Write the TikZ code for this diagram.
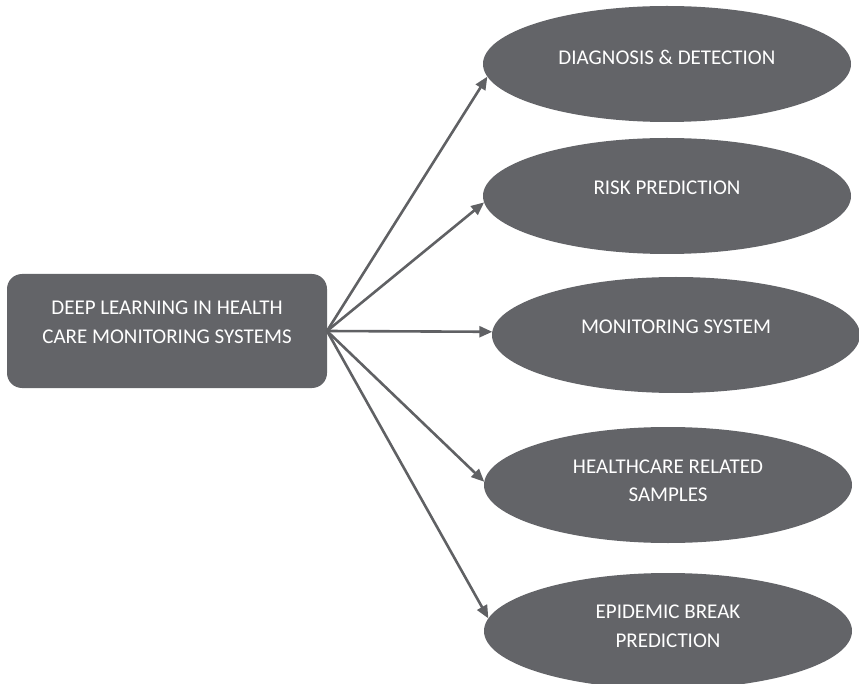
\documentclass[tikz,border=0pt]{standalone}
\usepackage{fontspec}
\setmainfont{Carlito}
\usetikzlibrary{shapes.geometric,arrows.meta}
\definecolor{shade}{RGB}{99,100,104}
\definecolor{linegray}{RGB}{96,97,100}
\begin{document}
\begin{tikzpicture}[x=1pt,y=-1pt,
  hubbox/.style={fill=shade, rounded corners=15pt, minimum width=320pt,
    minimum height=114pt, inner sep=0pt, outer sep=0pt},
  topic/.style={ellipse, fill=shade, minimum width=368pt,
    minimum height=116pt, inner sep=0pt, outer sep=0pt},
  caption/.style={text=white, font=\fontsize{21}{28.5}\selectfont,
    align=center, inner sep=0pt},
  link/.style={draw=linegray, line width=2.6pt,
    -{Triangle[length=13pt,width=11pt]}}]
\useasboundingbox (0,0) rectangle (859,684);
\clip (0,0) rectangle (859,684);

% central box
\node[hubbox] (hub) at (167,331) {};
\node[caption] (hubtext) at (167,322.5) {DEEP LEARNING IN HEALTH\\CARE MONITORING SYSTEMS};

% application areas
\node[topic] (d1) at (667,64) {};
\node[caption] (t1) at (667,57) {DIAGNOSIS \& DETECTION};
\node[topic] (d2) at (667,196) {};
\node[caption] (t2) at (667,188) {RISK PREDICTION};
\node[topic] (d3) at (676,335) {};
\node[caption] (t3) at (676,327) {MONITORING SYSTEM};
\node[topic] (d4) at (668,485) {};
\node[caption] (t4) at (668,481) {HEALTHCARE RELATED\\SAMPLES};
\node[topic] (d5) at (668,631) {};
\node[caption] (t5) at (668,626.5) {EPIDEMIC BREAK\\PREDICTION};

% connectors
\draw[link] (hub.east) -- (d1.184.5);
\draw[link] (hub.east) -- (d2.182.8);
\draw[link] (hub.east) -- (d3.179.3);
\draw[link] (hub.east) -- (d4.179);
\draw[link] (hub.east) -- (d5.176);
\end{tikzpicture}
\end{document}
